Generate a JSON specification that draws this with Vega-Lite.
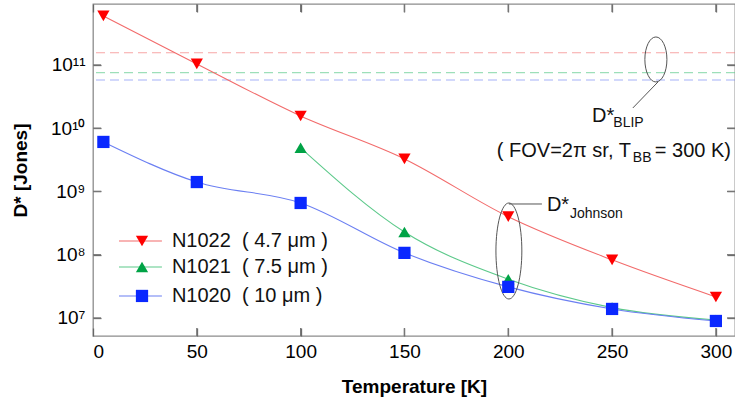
{
  "$schema": "https://vega.github.io/schema/vega-lite/v6.json",
  "width": 642,
  "height": 332,
  "autosize": {"type": "none"},
  "padding": {"left": 93, "top": 4, "right": 0, "bottom": 66},
  "config": {
    "font": "Liberation Sans",
    "view": {"stroke": "#8c8c8c", "strokeWidth": 1.3},
    "axis": {
      "labelFont": "Liberation Sans",
      "labelFontSize": 19,
      "labelColor": "#000",
      "ticks": true,
      "tickColor": "#666",
      "tickWidth": 1.3,
      "tickSize": 8,
      "tickOpacity": 1,
      "offset": -8,
      "domain": false,
      "grid": false,
      "zindex": 1,
      "titleFont": "Liberation Sans",
      "titleFontSize": 19,
      "titleFontWeight": "bold",
      "titleColor": "#000"
    }
  },
  "datasets": {
    "curves": [
      {"series": "N1022", "T": 5, "D": 5.96e11},
      {"series": "N1022", "T": 50, "D": 1.04e11},
      {"series": "N1022", "T": 100, "D": 1.56e10},
      {"series": "N1022", "T": 150, "D": 3.27e9},
      {"series": "N1022", "T": 200, "D": 4.0e8},
      {"series": "N1022", "T": 250, "D": 8.3e7},
      {"series": "N1022", "T": 300, "D": 2.15e7},
      {"series": "N1021", "T": 100, "D": 4.9e9},
      {"series": "N1021", "T": 150, "D": 2.29e8},
      {"series": "N1021", "T": 200, "D": 4.1e7},
      {"series": "N1021", "T": 250, "D": 1.46e7},
      {"series": "N1021", "T": 300, "D": 9.3e6},
      {"series": "N1020", "T": 5, "D": 6.07e9},
      {"series": "N1020", "T": 50, "D": 1.41e9},
      {"series": "N1020", "T": 100, "D": 6.58e8},
      {"series": "N1020", "T": 150, "D": 1.07e8},
      {"series": "N1020", "T": 200, "D": 3.1e7},
      {"series": "N1020", "T": 250, "D": 1.39e7},
      {"series": "N1020", "T": 300, "D": 8.97e6}
    ],
    "blip": [
      {"series": "N1022", "D": 1.56e11},
      {"series": "N1021", "D": 7.55e10},
      {"series": "N1020", "D": 5.79e10}
    ],
    "xticks": [{"T": 50}, {"T": 100}, {"T": 150}, {"T": 200}, {"T": 250}, {"T": 300}],
    "yticks": [{"D": 1e7}, {"D": 1e8}, {"D": 1e9}, {"D": 1e10}, {"D": 1e11}],
    "legendrows": [
      {"series": "N1022", "label": "N1022\u00a0\u00a0(\u00a04.7\u00a0μm\u00a0)", "T1": 12.5, "T2": 33.2, "Tm": 23.6, "Tt": 38.0, "D": 1.65e8},
      {"series": "N1021", "label": "N1021\u00a0\u00a0(\u00a07.5\u00a0μm\u00a0)", "T1": 12.5, "T2": 33.2, "Tm": 23.6, "Tt": 38.0, "D": 6.4e7},
      {"series": "N1020", "label": "N1020\u00a0\u00a0(\u00a010\u00a0μm\u00a0)", "T1": 12.5, "T2": 33.2, "Tm": 23.6, "Tt": 38.0, "D": 2.23e7}
    ],
    "ellipses": [
      {"name": "BLIP", "T": 271.1, "D": 1.222e11},
      {"name": "Johnson", "T": 200.3, "D": 1.146e8}
    ],
    "leaders": [
      {"T": 272.1, "D": 5.38e10, "T2": 260.0, "D2": 2.09e10},
      {"T": 200.3, "D": 6.34e8, "T2": 216.2, "D2": 6.34e8}
    ],
    "notes": [
      {"kind": "big", "T": 240.3, "D": 1.256e10, "text": "D*"},
      {"kind": "small", "T": 250.6, "D": 1.047e10, "text": "BLIP"},
      {"kind": "big", "T": 194.5, "D": 3.51e9, "text": "( FOV=2π sr, T"},
      {"kind": "small", "T": 260.0, "D": 2.92e9, "text": "BB"},
      {"kind": "big", "T": 270.6, "D": 3.51e9, "text": "= 300 K)"},
      {"kind": "big", "T": 218.6, "D": 4.92e8, "text": "D*"},
      {"kind": "small", "T": 229.7, "D": 3.81e8, "text": "Johnson"}
    ]
  },
  "resolve": {"axis": {"x": "independent", "y": "independent"}},
  "layer": [
    {
      "data": {"name": "blip"},
      "mark": {"type": "rule", "strokeDash": [9, 5], "strokeWidth": 1.2, "opacity": 0.6},
      "encoding": {
        "y": {"field": "D", "type": "quantitative", "scale": {"type": "log", "domain": [5.19e6, 9.2e11], "nice": false}, "axis": null},
        "stroke": {"field": "series", "type": "nominal", "legend": null}
      }
    },
    {
      "data": {"name": "curves"},
      "mark": {"type": "line", "interpolate": "monotone", "strokeWidth": 1.1},
      "encoding": {
        "x": {"field": "T", "type": "quantitative", "scale": {"domain": [0, 309.2], "nice": false, "zero": false},
              "axis": {"orient": "bottom", "title": "Temperature [K]", "values": [0, 50, 100, 150, 200, 250, 300], "labelPadding": 6, "titlePadding": 16}},
        "y": {"field": "D", "type": "quantitative",
              "axis": {"orient": "left", "title": "D* [Jones]", "values": [1e7, 1e8, 1e9, 1e10, 1e11], "labelPadding": 8, "titlePadding": 20,
                       "labelExpr": "datum.value < 5e7 ? '10⁷' : datum.value < 5e8 ? '10⁸' : datum.value < 5e9 ? '10⁹' : datum.value < 5e10 ? '10¹⁰' : '10¹¹'"}},
        "stroke": {"field": "series", "type": "nominal",
                   "scale": {"domain": ["N1022", "N1021", "N1020"], "range": ["#f26b6b", "#5cc98a", "#6b7ff2"]},
                   "legend": null}
      }
    },
    {
      "data": {"name": "xticks"},
      "mark": {"type": "rule", "color": "#777", "strokeWidth": 1.3, "y2Offset": -8},
      "encoding": {
        "x": {"field": "T", "type": "quantitative", "axis": null},
        "y": {"datum": 5.19e6, "type": "quantitative", "axis": null},
        "y2": {"datum": 5.19e6}
      }
    },
    {
      "data": {"name": "xticks"},
      "mark": {"type": "rule", "color": "#777", "strokeWidth": 1.3, "y2Offset": 8},
      "encoding": {
        "x": {"field": "T", "type": "quantitative", "axis": null},
        "y": {"datum": 9.2e11, "type": "quantitative", "axis": null},
        "y2": {"datum": 9.2e11}
      }
    },
    {
      "data": {"name": "yticks"},
      "mark": {"type": "rule", "color": "#777", "strokeWidth": 1.3, "x2Offset": 8},
      "encoding": {
        "y": {"field": "D", "type": "quantitative", "axis": null},
        "x": {"datum": 0, "type": "quantitative", "axis": null},
        "x2": {"datum": 0}
      }
    },
    {
      "data": {"name": "yticks"},
      "mark": {"type": "rule", "color": "#777", "strokeWidth": 1.3, "x2Offset": -8},
      "encoding": {
        "y": {"field": "D", "type": "quantitative", "axis": null},
        "x": {"datum": 309.2, "type": "quantitative", "axis": null},
        "x2": {"datum": 309.2}
      }
    },
    {
      "data": {"name": "legendrows"},
      "mark": {"type": "rule", "strokeWidth": 1.1},
      "encoding": {
        "x": {"field": "T1", "type": "quantitative", "axis": null},
        "x2": {"field": "T2"},
        "y": {"field": "D", "type": "quantitative", "axis": null},
        "stroke": {"field": "series", "type": "nominal", "legend": null}
      }
    },
    {
      "data": {"name": "ellipses"},
      "transform": [{"filter": "datum.name === 'BLIP'"}],
      "mark": {"type": "point", "filled": false, "color": "#555", "strokeWidth": 1, "opacity": 1, "size": 2025, "shape": "M-0.49,0A0.49,1,0,1,0,0.49,0A0.49,1,0,1,0,-0.49,0Z"},
      "encoding": {
        "x": {"field": "T", "type": "quantitative", "axis": null},
        "y": {"field": "D", "type": "quantitative", "axis": null}
      }
    },
    {
      "data": {"name": "ellipses"},
      "transform": [{"filter": "datum.name === 'Johnson'"}],
      "mark": {"type": "point", "filled": false, "color": "#555", "strokeWidth": 1, "opacity": 1, "size": 9216, "shape": "M-0.27,0A0.27,1,0,1,0,0.27,0A0.27,1,0,1,0,-0.27,0Z"},
      "encoding": {
        "x": {"field": "T", "type": "quantitative", "axis": null},
        "y": {"field": "D", "type": "quantitative", "axis": null}
      }
    },
    {
      "data": {"name": "leaders"},
      "mark": {"type": "rule", "color": "#555", "strokeWidth": 1},
      "encoding": {
        "x": {"field": "T", "type": "quantitative", "axis": null},
        "y": {"field": "D", "type": "quantitative", "axis": null},
        "x2": {"field": "T2"},
        "y2": {"field": "D2"}
      }
    },
    {
      "data": {"name": "curves"},
      "mark": {"type": "point", "filled": true, "opacity": 1, "size": 150},
      "encoding": {
        "x": {"field": "T", "type": "quantitative", "axis": {"orient": "top", "labels": false, "title": null, "values": [0, 50, 100, 150, 200, 250, 300]}},
        "y": {"field": "D", "type": "quantitative", "axis": {"orient": "right", "labels": false, "title": null, "values": [1e7, 1e8, 1e9, 1e10, 1e11]}},
        "fill": {"field": "series", "type": "nominal",
                 "scale": {"domain": ["N1022", "N1021", "N1020"], "range": ["#ff0000", "#00a346", "#0a28ff"]}, "legend": null},
        "shape": {"field": "series", "type": "nominal",
                  "scale": {"domain": ["N1022", "N1021", "N1020"], "range": ["triangle-down", "triangle-up", "square"]}, "legend": null}
      }
    },
    {
      "data": {"name": "legendrows"},
      "mark": {"type": "point", "filled": true, "opacity": 1, "size": 150},
      "encoding": {
        "x": {"field": "Tm", "type": "quantitative", "axis": null},
        "y": {"field": "D", "type": "quantitative", "axis": null},
        "fill": {"field": "series", "type": "nominal", "legend": null},
        "shape": {"field": "series", "type": "nominal", "legend": null}
      }
    },
    {
      "data": {"name": "legendrows"},
      "mark": {"type": "text", "align": "left", "baseline": "middle", "fontSize": 20, "color": "#111"},
      "encoding": {
        "x": {"field": "Tt", "type": "quantitative", "axis": null},
        "y": {"field": "D", "type": "quantitative", "axis": null},
        "text": {"field": "label"}
      }
    },
    {
      "data": {"name": "notes"},
      "mark": {"type": "text", "align": "left", "baseline": "alphabetic", "color": "#111"},
      "encoding": {
        "x": {"field": "T", "type": "quantitative", "axis": null},
        "y": {"field": "D", "type": "quantitative", "axis": null},
        "text": {"field": "text"},
        "size": {"field": "kind", "type": "nominal", "scale": {"domain": ["small", "big"], "range": [14, 20]}, "legend": null}
      }
    }
  ]
}
